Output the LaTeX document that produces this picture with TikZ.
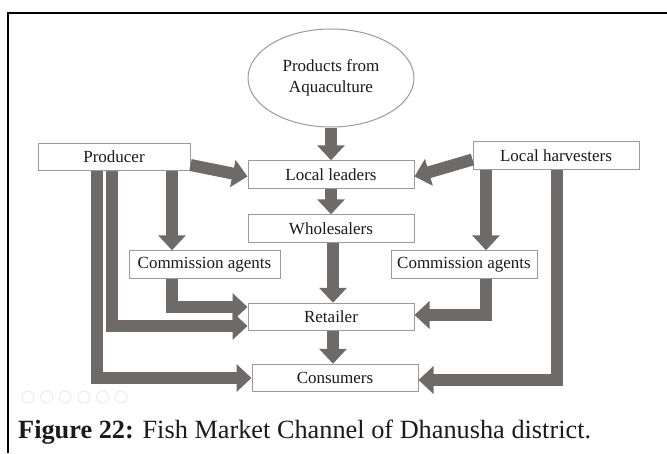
\documentclass[tikz,border=0pt]{standalone}
\usepackage{fontspec}
\setmainfont{Liberation Serif}
\usetikzlibrary{shapes.geometric,arrows.meta,calc}
\definecolor{arrowgray}{HTML}{6E6A6A}
\definecolor{boxgray}{HTML}{9A9A9A}
\definecolor{txt}{HTML}{1A1A1A}
\tikzset{
  stagebox/.style={draw=boxgray, line width=1pt, fill=white, inner sep=0pt,
    minimum height=27.5pt, text=txt, font=\fontsize{17}{20}\selectfont},
  flow/.style={draw=arrowgray, line width=12pt, line join=miter,
    -{Triangle[length=15pt,width=27pt]}},
}
\begin{document}
\begin{tikzpicture}[x=1pt,y=-1pt]
\useasboundingbox (0,0) rectangle (667,453);
% frame
\draw[line width=2pt, black] (8,453) -- (8,13) -- (667,13);
% nodes
\node[ellipse, draw=boxgray, line width=1pt, minimum width=166pt, minimum height=98pt,
  inner sep=0pt, align=center, text=txt, font=\fontsize{17}{21}\selectfont]
  (E) at (331,78) {Products from\\Aquaculture};
\node[stagebox, minimum width=152pt] (P) at (114,157) {Producer};
\node[stagebox, minimum width=166pt] (LL) at (331,174.5) {Local leaders};
\node[stagebox, minimum width=166pt] (W) at (331,228.5) {Wholesalers};
\node[stagebox, minimum width=151pt] (CAL) at (204.5,264.5) {Commission agents};
\node[stagebox, minimum width=166pt] (R) at (331,317) {Retailer};
\node[stagebox, minimum width=166pt] (C) at (335,378) {Consumers};
\node[stagebox, minimum width=166pt] (LH) at (556,155.5) {Local harvesters};
\node[stagebox, minimum width=146pt] (CAR) at (464,264.5) {Commission agents};
% central arrows
\draw[flow] (E.south) -- (LL.north);
\draw[flow] (LL.south) -- (W.north);
\draw[flow] ([xshift=2pt]W.south) -- ([xshift=2pt]R.north);
\draw[flow] ([xshift=2pt]R.south) -- ([xshift=-2pt]C.north);
% slanted arrows
\draw[flow] ([yshift=-8pt]P.east) -- ([yshift=-2pt]LL.west);
\draw[flow] ([yshift=-4pt]LH.west) -- ([yshift=-2pt]LL.east);
% producer side
\draw[flow] ([xshift=58pt]P.south) coordinate (pa) -- (pa |- CAL.north);
\draw[flow] ([xshift=-2pt]P.south) |- ([yshift=-9pt]R.west);
\draw[flow] ([xshift=-17pt]P.south) |- (C.west);
\draw[flow] ([xshift=-32.5pt]CAL.south) |- ([yshift=10pt]R.west);
% harvester side
\draw[flow] ([xshift=-70pt]LH.south) coordinate (ha) -- (ha |- CAR.north);
\draw[flow] ([xshift=22pt]CAR.south) |- ([yshift=2pt]R.east);
\draw[flow] ([xshift=1pt]LH.south) |- ([yshift=-2pt]C.east);
% faint toolbar icons
\foreach \i in {0,...,5}
  \draw[gray!18, line width=0.8pt] (28+18.6*\i,397) circle (6pt);
% caption
\node[anchor=base west, inner sep=0pt, text=txt, font=\fontsize{26.3}{30}\selectfont]
  (cap) at (18,438) {\textbf{Figure 22:} Fish Market Channel of Dhanusha district.};
\end{tikzpicture}
\end{document}
